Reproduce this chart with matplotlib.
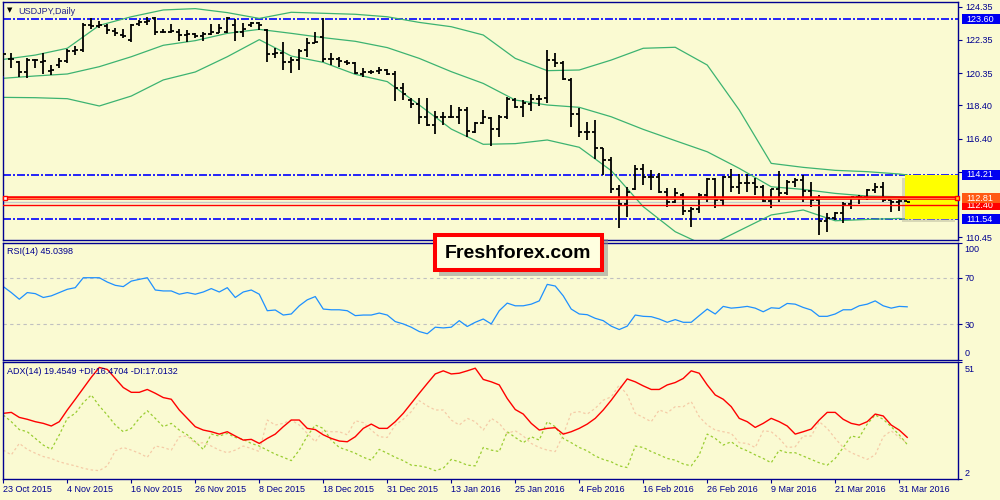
import numpy as np
import matplotlib
matplotlib.use("Agg")
import matplotlib.pyplot as plt
from matplotlib.patches import Rectangle
from matplotlib.transforms import blended_transform_factory

plt.rcParams["font.family"] = ["Liberation Sans", "DejaVu Sans"]

BG = "#FAFAD2"
NAVY = "#000090"

# USDJPY daily bars, 23 Oct 2015 .. 1 Apr 2016
opens = [121.44, 121.18, 121.04, 120.44, 121.12, 121.04, 120.48, 120.84, 121.08, 121.68,
         121.74, 123.25, 123.19, 123.19, 122.91, 122.65, 122.35, 123.31, 123.45, 123.65,
         122.85, 122.85, 122.85, 122.65, 122.69, 122.59, 122.69, 122.79, 122.85, 123.25,
         122.85, 123.25, 123.35, 122.95, 121.50, 121.54, 121.04, 121.14, 121.74, 122.19,
         122.55, 121.18, 121.18, 121.04, 120.98, 120.30, 120.44, 120.50, 120.54, 120.30,
         119.43, 118.73, 118.49, 117.68, 117.22, 117.72, 117.68, 117.72, 118.13, 116.82,
         117.36, 117.62, 116.96, 117.72, 118.73, 118.33, 118.49, 118.77, 118.83, 121.14,
         120.94, 119.94, 117.89, 116.82, 116.82, 115.82, 115.11, 113.34, 112.46, 113.34,
         114.55, 114.11, 114.11, 113.20, 112.60, 113.00, 112.06, 112.14, 113.00, 113.95,
         112.70, 114.11, 113.46, 113.75, 113.70, 113.50, 112.64, 113.34, 113.10, 113.81,
         113.91, 113.26, 112.70, 111.45, 111.59, 111.90, 112.46, 112.86, 112.90, 113.30,
         113.50, 112.70, 112.60, 112.62]
highs = [121.54, 121.54, 121.08, 121.24, 121.18, 121.54, 120.84, 121.24, 121.79, 121.99,
         123.35, 123.65, 123.51, 123.31, 123.05, 122.99, 123.31, 123.55, 123.75, 123.75,
         122.99, 123.31, 122.99, 122.95, 122.75, 122.85, 123.31, 123.31, 123.75, 123.59,
         123.39, 123.45, 123.45, 122.99, 121.85, 122.25, 121.34, 121.79, 122.45, 122.85,
         123.65, 121.54, 121.34, 121.14, 121.04, 120.64, 120.54, 120.70, 120.58, 120.50,
         119.73, 118.83, 118.83, 118.83, 118.09, 118.03, 118.43, 118.29, 118.29, 117.42,
         118.13, 117.72, 117.82, 118.89, 118.83, 118.73, 119.09, 119.03, 121.74, 121.54,
         121.10, 120.04, 118.23, 117.42, 117.52, 115.82, 115.31, 113.60, 113.50, 114.81,
         114.87, 114.51, 114.31, 113.40, 113.40, 113.10, 112.30, 113.10, 114.01, 114.01,
         114.15, 114.55, 114.27, 114.27, 114.01, 113.60, 113.34, 114.47, 113.91, 114.01,
         114.21, 113.81, 113.00, 111.90, 112.00, 112.60, 112.90, 113.00, 113.34, 113.75,
         113.81, 112.70, 112.74, 112.64]
lows = [120.18, 120.64, 120.14, 120.04, 120.64, 120.30, 120.24, 120.64, 120.98, 121.44,
        121.64, 122.99, 123.05, 122.71, 122.59, 122.45, 122.25, 123.19, 123.25, 122.65,
        122.75, 122.75, 122.31, 122.25, 122.45, 122.31, 122.65, 122.75, 122.75, 122.31,
        122.51, 123.15, 122.95, 121.04, 121.24, 120.54, 120.34, 120.54, 121.34, 122.15,
        121.04, 120.84, 120.74, 120.84, 120.30, 120.14, 120.30, 120.30, 120.24, 118.69,
        118.73, 118.23, 117.28, 117.16, 116.68, 117.22, 117.62, 117.28, 116.52, 116.72,
        117.28, 115.96, 116.48, 117.56, 118.23, 117.68, 118.09, 118.37, 118.53, 120.74,
        119.94, 117.08, 116.52, 116.32, 115.15, 114.21, 113.10, 110.99, 111.65, 113.30,
        113.60, 113.30, 113.14, 112.30, 112.50, 111.80, 111.05, 111.90, 112.60, 112.20,
        112.34, 113.20, 113.06, 113.20, 113.00, 112.60, 112.20, 112.60, 113.00, 113.50,
        112.60, 112.30, 110.59, 110.79, 111.49, 111.33, 112.14, 112.46, 112.70, 113.10,
        112.60, 112.00, 112.06, 112.56]
closes = [121.50, 121.18, 120.44, 121.14, 121.12, 121.08, 120.54, 121.08, 121.70, 121.74,
          123.25, 123.19, 123.25, 122.95, 122.79, 122.59, 123.25, 123.45, 123.51, 122.85,
          122.85, 122.91, 122.65, 122.69, 122.59, 122.69, 122.85, 123.05, 123.65, 122.85,
          122.99, 123.39, 123.25, 121.50, 121.54, 121.04, 121.14, 121.70, 122.19, 122.25,
          121.18, 121.18, 121.08, 120.98, 120.38, 120.44, 120.44, 120.54, 120.30, 119.43,
          119.07, 118.49, 117.68, 117.22, 117.72, 117.72, 117.68, 118.13, 116.88, 117.32,
          117.68, 116.96, 117.72, 118.77, 118.29, 118.53, 118.77, 118.77, 121.14, 120.94,
          119.98, 117.89, 116.82, 116.82, 115.82, 115.11, 113.34, 112.46, 113.20, 114.55,
          114.11, 114.11, 113.20, 112.60, 113.14, 112.06, 112.14, 113.00, 113.95, 112.70,
          114.11, 113.46, 113.75, 113.70, 113.50, 112.64, 113.34, 113.10, 113.81, 113.91,
          113.26, 112.70, 111.45, 111.59, 111.90, 112.46, 112.86, 112.90, 113.30, 113.50,
          112.70, 112.60, 112.66, 112.58]

# Bollinger bands, read every 4th bar
bb_idx = [0, 4, 8, 12, 16, 20, 24, 28, 32, 36, 40, 44, 48, 52, 56, 60, 64, 68, 72, 76,
          80, 84, 88, 92, 96, 100, 104, 108, 112, 113]
bb_upper = [121.18, 121.44, 121.85, 123.23, 123.75, 124.16, 124.24, 124.00, 123.65, 124.02,
            123.96, 123.90, 123.75, 123.41, 123.15, 122.65, 121.24, 120.50, 120.54, 121.14,
            121.85, 121.91, 120.84, 118.13, 114.91, 114.67, 114.49, 114.41, 114.27, 114.21]
bb_mid = [120.04, 120.18, 120.30, 120.74, 121.34, 122.03, 122.31, 122.75, 122.99, 122.75,
          122.49, 122.27, 121.89, 121.24, 120.44, 119.73, 118.73, 118.43, 118.29, 117.72,
          116.96, 116.28, 115.61, 114.61, 113.50, 113.34, 113.10, 112.94, 112.90, 112.86]
bb_lower = [118.89, 118.87, 118.81, 118.37, 118.97, 119.94, 120.42, 121.34, 122.37, 121.38,
            121.00, 120.28, 119.84, 118.43, 116.98, 116.06, 116.10, 116.32, 115.88, 114.47,
            112.30, 110.79, 109.89, 110.85, 111.80, 112.10, 111.45, 111.53, 111.59, 111.53]

rsi = [62.3, 57.2, 51.5, 57.2, 56.3, 53.0, 54.4, 57.2, 60.0, 61.4,
       69.9, 69.9, 69.9, 66.2, 63.4, 62.3, 67.0, 68.5, 69.9, 59.4,
       58.6, 58.6, 55.8, 57.2, 55.8, 57.7, 60.6, 57.7, 61.4, 53.0,
       57.7, 59.4, 55.8, 41.7, 42.3, 38.0, 38.9, 45.9, 51.0, 53.8,
       43.1, 42.5, 42.5, 41.7, 37.5, 38.0, 38.0, 39.7, 38.0, 32.4,
       30.4, 27.6, 23.9, 22.0, 27.6, 27.0, 27.6, 33.2, 28.2, 31.8,
       34.6, 30.4, 41.7, 48.2, 45.9, 45.9, 47.3, 50.1, 64.2, 62.8,
       54.4, 43.1, 38.9, 38.3, 35.2, 33.2, 28.5, 25.6, 28.5, 38.0,
       36.9, 36.6, 34.6, 31.8, 34.1, 31.8, 31.8, 37.5, 43.1, 38.9,
       45.4, 43.9, 44.5, 45.4, 43.9, 40.8, 44.2, 43.7, 47.9, 47.3,
       44.5, 42.3, 36.9, 36.9, 38.9, 42.5, 42.5, 45.9, 47.3, 50.1,
       45.9, 43.9, 45.4, 45.04]

adx = [29.5, 29.9, 27.8, 27.0, 26.0, 25.3, 24.2, 26.0, 30.9, 35.4,
       40.0, 44.6, 48.7, 47.9, 44.1, 40.3, 38.3, 38.3, 39.5, 37.9,
       36.1, 35.4, 30.9, 27.4, 23.9, 22.5, 21.8, 20.8, 21.8, 20.0,
       18.3, 18.6, 16.9, 19.0, 20.8, 23.9, 26.7, 26.7, 23.2, 22.7,
       20.5, 19.0, 17.9, 17.6, 19.7, 23.2, 25.0, 23.2, 23.2, 26.0,
       29.5, 33.7, 37.9, 42.0, 46.0, 47.3, 46.0, 46.3, 47.3, 48.4,
       43.7, 42.7, 41.4, 35.7, 31.1, 29.2, 25.3, 22.5, 23.2, 23.5,
       20.8, 21.8, 23.2, 25.0, 27.4, 30.9, 35.0, 39.5, 43.9, 42.7,
       41.0, 39.5, 39.5, 41.4, 42.4, 44.1, 47.3, 46.3, 41.4, 37.2,
       35.4, 32.3, 27.4, 26.0, 23.6, 25.3, 27.4, 26.0, 24.2, 20.8,
       21.8, 22.9, 26.7, 29.9, 29.9, 27.0, 25.3, 24.6, 26.0, 29.2,
       28.4, 24.6, 22.5, 19.45]
plus_di = [28.8, 26.0, 22.7, 21.8, 19.0, 16.2, 14.4, 20.5, 27.4, 29.5,
           34.0, 37.2, 32.6, 28.8, 24.6, 21.8, 23.2, 27.4, 30.6, 27.4,
           23.9, 25.3, 22.5, 20.5, 17.6, 14.4, 20.8, 20.0, 21.1, 19.4,
           18.6, 16.9, 15.8, 14.1, 12.4, 11.1, 9.7, 14.1, 20.0, 24.6,
           23.2, 18.3, 15.2, 14.1, 12.8, 11.1, 9.9, 14.4, 12.8, 11.1,
           9.7, 7.8, 7.5, 6.8, 5.5, 6.5, 10.2, 9.2, 7.8, 7.5,
           15.2, 14.1, 13.5, 21.8, 19.4, 17.2, 19.7, 18.3, 26.0, 23.9,
           19.0, 17.2, 15.2, 13.8, 11.6, 10.2, 9.2, 7.5, 6.8, 15.8,
           15.2, 13.5, 12.1, 10.6, 9.9, 8.3, 7.5, 12.1, 20.8, 19.0,
           16.2, 17.6, 15.2, 13.8, 12.1, 10.6, 8.8, 14.1, 13.0, 13.0,
           11.6, 10.2, 8.8, 7.8, 10.6, 15.2, 20.0, 19.4, 25.0, 28.8,
           27.0, 23.9, 20.5, 16.47]
minus_di = [14.1, 12.1, 16.9, 14.4, 12.8, 11.4, 10.6, 9.2, 8.3, 7.5,
            6.5, 5.8, 5.5, 7.5, 13.8, 15.2, 14.1, 12.8, 11.1, 15.8,
            15.2, 14.1, 19.7, 20.0, 16.9, 17.2, 15.8, 14.1, 13.0, 14.1,
            15.8, 14.8, 13.5, 26.7, 24.6, 25.3, 26.7, 24.6, 21.1, 17.6,
            22.2, 21.8, 21.8, 20.5, 26.4, 25.6, 22.5, 19.7, 19.4, 24.6,
            27.0, 30.2, 34.8, 32.6, 30.9, 30.9, 26.7, 24.6, 27.4, 26.0,
            22.5, 27.4, 25.3, 21.1, 22.2, 20.0, 16.9, 15.2, 14.1, 13.5,
            20.5, 29.7, 30.2, 29.2, 31.6, 35.0, 36.4, 41.4, 37.2, 29.5,
            27.8, 26.0, 30.9, 29.7, 32.3, 32.3, 34.4, 28.1, 24.6, 22.5,
            21.8, 21.1, 17.2, 16.9, 15.2, 22.2, 21.8, 19.0, 15.2, 15.5,
            20.0, 20.0, 26.0, 23.2, 19.0, 15.2, 13.0, 11.6, 10.2, 12.1,
            19.7, 22.2, 19.4, 17.01]

date_ticks = list(range(0, 113, 8))
date_labels = ["23 Oct 2015", "4 Nov 2015", "16 Nov 2015", "26 Nov 2015", "8 Dec 2015",
               "18 Dec 2015", "31 Dec 2015", "13 Jan 2016", "25 Jan 2016", "4 Feb 2016",
               "16 Feb 2016", "26 Feb 2016", "9 Mar 2016", "21 Mar 2016", "31 Mar 2016"]

price_ticks = [124.35, 122.35, 120.35, 118.40, 116.40, 114.40, 110.45]
price_tick_labels = ["124.35", "122.35", "120.35", "118.40", "116.40", "", "110.45"]
blue_levels = [123.60, 114.21, 111.54]
red_thick = 112.81
red_thin = 112.40

W, H = 1000, 500
X0, X1 = 2.5, 958


def px_box(x0, y0, x1, y1):
    return [x0 / W, 1 - y1 / H, (x1 - x0) / W, (y1 - y0) / H]


def ax_frac(px):
    return (px - X0) / (X1 - X0)


fig = plt.figure(figsize=(10, 5), dpi=100, facecolor=BG)
ax = fig.add_axes(px_box(X0, 2, X1, 240))
ax_rsi = fig.add_axes(px_box(X0, 242.5, X1, 359.5))
ax_adx = fig.add_axes(px_box(X0, 362, X1, 479))

for a in (ax, ax_rsi, ax_adx):
    a.set_facecolor(BG)
    a.set_xlim(-0.1, 119.35)
    for s in a.spines.values():
        s.set_color(NAVY)
        s.set_linewidth(1.0)
    a.yaxis.tick_right()
    a.tick_params(axis="y", colors=NAVY, labelcolor=NAVY, labelsize=6.5,
                  length=3, width=0.8, pad=2)
    a.tick_params(axis="x", length=0, labelbottom=False)

# ---- price panel ----
x = np.arange(len(opens))
ax.set_ylim(110.29, 124.64)
ax.set_yticks(price_ticks)
ax.set_yticklabels(price_tick_labels)

for lv in blue_levels:
    ax.axhline(lv, color="#0000FF", lw=1.2, dashes=(4.8, 1.2, 1.2, 1.2), zorder=1)

ax.axhline(closes[-1], color="#C8C8C8", lw=1.0, zorder=0.9)

for band in (bb_upper, bb_mid, bb_lower):
    ax.plot(bb_idx, band, color="#3CB371", lw=0.9, zorder=1.5)

# highlighted zone at the right edge
zone_x = 112.75
ax.add_patch(Rectangle((zone_x - 0.4, blue_levels[2] - 0.18), 119.35 - zone_x,
                       blue_levels[1] - blue_levels[2], fc="#B0B098", alpha=0.45,
                       ec="none", zorder=1.9))
ax.add_patch(Rectangle((zone_x, blue_levels[2]), 119.35 - zone_x,
                       blue_levels[1] - blue_levels[2], fc="#FFFF00", ec="none", zorder=2))

ax.vlines(x, lows, highs, color="black", lw=1.3, zorder=3)
ax.hlines(opens, x - 0.35, x, color="black", lw=1.3, zorder=3)
ax.hlines(closes, x, x + 0.35, color="black", lw=1.3, zorder=3)

ax.axhline(red_thick, color="#FF0000", lw=2.6, zorder=4)
ax.axhline(red_thick, color="#FF8040", lw=0.7, zorder=4.1)
ax.axhline(red_thin, color="#FF0000", lw=1.0, zorder=4)

tr = blended_transform_factory(ax.transAxes, ax.transData)
ax.plot([0.003], [red_thick], transform=tr, marker="s", ms=3.5, mfc="white",
        mec="red", mew=1, clip_on=False, zorder=5)
ax.plot([0.9985], [red_thick], transform=tr, marker="s", ms=3.5, mfc="#FFD700",
        mec="red", mew=1, clip_on=False, zorder=5)


def price_tag(y, txt, fc, z):
    ax.add_patch(Rectangle((ax_frac(962), y - 0.31), ax_frac(1001) - ax_frac(962), 0.62,
                           transform=tr, fc=fc, ec="none", clip_on=False, zorder=z))
    ax.text(ax_frac(966), y, txt, transform=tr, ha="left", va="center", fontsize=6.5,
            color="white", clip_on=False, zorder=z + 0.1)


price_tag(blue_levels[0], "123.60", "#0000F0", 6)
price_tag(blue_levels[1], "114.21", "#0000F0", 6)
price_tag(blue_levels[2], "111.54", "#0000F0", 6)
price_tag(red_thin, "112.40", "#FF0000", 6)
price_tag(red_thick, "112.81", "#FF5A14", 7)


def edge_label(a, txt, top):
    # MT4 pulls the min/max scale labels inside the sub-window
    h = a.get_window_extent().height
    y = 1 - 7 / h if top else 6 / h
    a.text(ax_frac(964.5), y, txt, transform=a.transAxes, ha="left", va="center",
           fontsize=6.5, color=NAVY, clip_on=False)


# ---- RSI panel ----
ax_rsi.set_ylim(0, 100)
ax_rsi.axhline(70, color="#C0C0C0", lw=0.8, dashes=(3, 3))
ax_rsi.axhline(30, color="#C0C0C0", lw=0.8, dashes=(3, 3))
ax_rsi.plot(x, rsi, color="#1E90FF", lw=0.9)
ax_rsi.set_yticks([0, 30, 70, 100])
ax_rsi.set_yticklabels(["", "30", "70", ""])
edge_label(ax_rsi, "100", True)
edge_label(ax_rsi, "0", False)

# ---- ADX panel ----
ax_adx.set_ylim(2, 51)
ax_adx.plot(x, minus_di, color="#F5CBA7", lw=0.9, dashes=(2, 2))
ax_adx.plot(x, plus_di, color="#9ACD32", lw=0.9, dashes=(2, 2))
ax_adx.plot(x, adx, color="#FF0000", lw=1.0)
ax_adx.set_yticks([2, 51])
ax_adx.set_yticklabels(["", ""])
edge_label(ax_adx, "51", True)
edge_label(ax_adx, "2", False)
ax_adx.set_xticks(date_ticks)
ax_adx.set_xticklabels(date_labels)
ax_adx.tick_params(axis="x", length=3, width=0.8, colors=NAVY, labelcolor=NAVY,
                   labelsize=6.5, pad=1, labelbottom=True)
for lbl in ax_adx.get_xticklabels():
    lbl.set_ha("left")

# ---- panel captions ----
fig.text(7 / W, 1 - 10 / H, "\u25bc", fontsize=5, color="black",
         family="DejaVu Sans", va="center")
fig.text(18 / W, 1 - 11 / H, "USDJPY,Daily", fontsize=6.5, color="#22228F", va="center")
fig.text(7 / W, 1 - 252 / H, "RSI(14) 45.0398", fontsize=6.5, color=NAVY, va="center")
fig.text(7 / W, 1 - 372 / H, "ADX(14) 19.4549 +DI:16.4704 -DI:17.0132", fontsize=6.5,
         color=NAVY, va="center", zorder=5)

# ---- watermark ----
sx0, sy0, sx1, sy1 = 439, 239, 608, 276
fig.add_artist(Rectangle((sx0 / W, 1 - sy1 / H), (sx1 - sx0) / W, (sy1 - sy0) / H,
                         transform=fig.transFigure, fc="#909090", alpha=0.55, ec="none",
                         zorder=10))
bx0, by0, bx1, by1 = 435, 235, 602, 270
fig.add_artist(Rectangle((bx0 / W, 1 - by1 / H), (bx1 - bx0) / W, (by1 - by0) / H,
                         transform=fig.transFigure, fc="#FFFFE0", ec="#FF0000", lw=2.9,
                         zorder=11))
fig.text(518.5 / W, 1 - 253 / H, "Freshforex.com", fontsize=14, fontweight="bold",
         color="black", ha="center", va="center", zorder=12)

fig.savefig("out.png", dpi=100, facecolor=BG)
